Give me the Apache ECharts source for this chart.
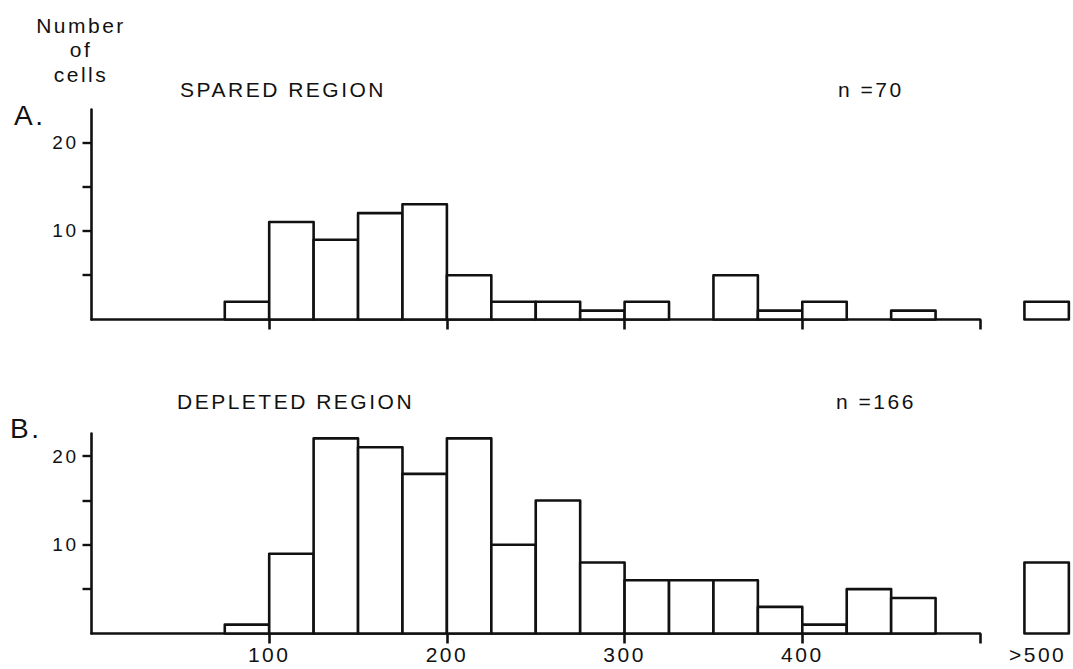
<!DOCTYPE html>
<html>
<head>
<meta charset="utf-8">
<script src="https://cdn.jsdelivr.net/npm/echarts@6/dist/echarts.min.js"></script>
<style>
  html, body { margin: 0; padding: 0; background: #fff; }
  #chart { width: 1073px; height: 669px; }
  #chart svg text { letter-spacing: 2.5px; }
</style>
</head>
<body>
<div id="chart"></div>
<script>
// ---- data ----
const binWidth = 25;
const binStarts = [75, 100, 125, 150, 175, 200, 225, 250, 275, 300, 325, 350, 375, 400, 425, 450, 475];
const sparedCounts   = [2, 11, 9, 12, 13, 5, 2, 2, 1, 2, 0, 5, 1, 2, 0, 1, 0];
const depletedCounts = [1, 9, 22, 21, 18, 22, 10, 15, 8, 6, 6, 6, 3, 1, 5, 4, 0];
const overflowLabel = '>500';
const overflowStart = 525;       // where the ">500" bin is drawn on the size axis
const sparedOverflow = 2;
const depletedOverflow = 8;
const xTickValues = [100, 200, 300, 400, 500];
const xLabelValues = [100, 200, 300, 400];
const yTickValues = [5, 10, 15, 20];
const yLabelValues = [10, 20];
const panelTitles = ['SPARED REGION', 'DEPLETED REGION'];
const panelCounts = ['n =70', 'n =166'];
const panelLetters = ['A.', 'B.'];
const yAxisTitle = ['Number', 'of', 'cells'];

// ---- build ----
const FONT = '"Liberation Sans", Arial, Helvetica, sans-serif';
const INK = '#111';

function histData(counts, overflow) {
  const d = [];
  binStarts.forEach((s, i) => { if (counts[i] > 0) d.push([s, counts[i], 0]); });
  d.push([overflowStart, overflow, 1]);
  return d;
}

function renderBin(showOverflowLabel) {
  return function (params, api) {
    const start = api.value(0), count = api.value(1), isOver = api.value(2);
    const p0 = api.coord([start, count]);
    const p1 = api.coord([start + binWidth, 0]);
    const children = [{
      type: 'rect',
      shape: { x: p0[0], y: p0[1], width: p1[0] - p0[0], height: p1[1] - p0[1] },
      style: { fill: '#fff', stroke: INK, lineWidth: 2.6, lineJoin: 'round' }
    }];
    if (isOver && showOverflowLabel) {
      const c = api.coord([start + binWidth / 2, 0]);
      children.push({
        type: 'text',
        style: {
          text: overflowLabel, x: c[0] - 9, y: c[1] + 10,
          fill: INK, font: '21px ' + FONT, align: 'center', verticalAlign: 'top'
        }
      });
    }
    return { type: 'group', children: children };
  };
}

function xAxisFor(gridIndex, showLabels) {
  return {
    type: 'value', gridIndex: gridIndex, min: 0, max: 500, interval: 100,
    axisLine: { show: true, lineStyle: { color: INK, width: 2.6 } },
    axisTick: { show: true, inside: false, length: 10, customValues: xTickValues,
                lineStyle: { color: INK, width: 2.6 } },
    axisLabel: { show: showLabels, customValues: xLabelValues, margin: 10,
                 color: INK, fontSize: 21, fontFamily: FONT },
    splitLine: { show: false }
  };
}

function yAxisFor(gridIndex, max) {
  return {
    type: 'value', gridIndex: gridIndex, min: 0, max: max, interval: 5,
    axisLine: { show: true, lineStyle: { color: INK, width: 2.6 } },
    axisTick: { show: true, inside: false, length: 9, customValues: yTickValues,
                lineStyle: { color: INK, width: 2.4 } },
    axisLabel: { show: true, customValues: yLabelValues, margin: 13,
                 color: INK, fontSize: 19, fontFamily: FONT },
    splitLine: { show: false }
  };
}

function txt(text, x, y, size, align) {
  return {
    type: 'text', silent: true,
    style: { text: text, x: x, y: y, fill: INK, font: size + 'px ' + FONT,
             align: align || 'left', verticalAlign: 'middle' }
  };
}

const graphics = [
  txt(yAxisTitle[0], 81, 25, 21, 'center'),
  txt(yAxisTitle[1], 81, 49, 21, 'center'),
  txt(yAxisTitle[2], 81, 74, 21, 'center'),
  txt(panelTitles[0], 180, 89, 21),
  txt(panelCounts[0], 838, 89, 21),
  txt(panelLetters[0], 14, 115, 28),
  txt(panelTitles[1], 177, 401, 21),
  txt(panelCounts[1], 836, 401, 21),
  txt(panelLetters[1], 10, 428, 28)
];

const chart = echarts.init(document.getElementById('chart'), null, { renderer: 'svg' });
chart.setOption({
  backgroundColor: '#fff',
  animation: false,
  grid: [
    { left: 91.5, right: 93, top: 109.5, height: 210 },
    { left: 91.5, right: 93, top: 433.5, height: 200 }
  ],
  xAxis: [xAxisFor(0, false), xAxisFor(1, true)],
  yAxis: [yAxisFor(0, 23.7), yAxisFor(1, 22.55)],
  graphic: graphics,
  series: [
    { type: 'custom', xAxisIndex: 0, yAxisIndex: 0, clip: false,
      renderItem: renderBin(false), data: histData(sparedCounts, sparedOverflow), z: 1 },
    { type: 'custom', xAxisIndex: 1, yAxisIndex: 1, clip: false,
      renderItem: renderBin(true), data: histData(depletedCounts, depletedOverflow), z: 1 }
  ]
});
</script>
</body>
</html>
